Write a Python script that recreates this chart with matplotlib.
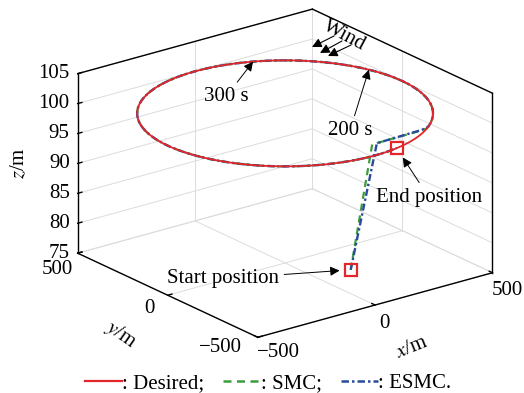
import numpy as np
import matplotlib
matplotlib.use("Agg")
import matplotlib.pyplot as plt
from matplotlib.lines import Line2D
from matplotlib.text import Annotation
from mpl_toolkits.mplot3d import proj3d

plt.rcParams["font.family"] = ["Liberation Serif", "DejaVu Serif"]
plt.rcParams["mathtext.fontset"] = "stix"
FS = 15

# ---------------- axis ranges and ticks ----------------
x_range = [-500, 500]
y_range = [-500, 500]
z_range = [75, 105]
x_ticks = [-500, 0, 500]
y_ticks = [-500, 0, 500]
z_ticks = [75, 80, 85, 90, 95, 100, 105]

# ---------------- desired circular path ----------------
circle_radius = 500.0
circle_altitude = 100.0

# ---------------- start / end positions ----------------
start_xyz = [-35.0, -410.0, 80.0]
end_angle_deg = -78.5

# ---------------- climb + transfer legs before joining the circle ----------------
smc_x = [-35, 55, 262]
smc_y = [-410, -412, -408]
smc_z = [80, 100, 100]
smc_join_deg = -54

esmc_x = [-35, 75, 272]
esmc_y = [-410, -412, -405]
esmc_z = [80, 100, 100]
esmc_join_deg = -52

# ---------------- time stamps along the circle ----------------
time_labels = ["200 s", "300 s"]
time_angles_deg = [18, 65]

RED = "#e3262b"
GREEN = "#3a9e3f"
BLUE = "#2b4a9b"
GRID = "#dcdcdc"

W_PX, H_PX = 524, 393


def circle_pts(a0_deg, a1_deg, n=600):
    a = np.radians(np.linspace(a0_deg, a1_deg, n))
    return (circle_radius * np.cos(a), circle_radius * np.sin(a),
            np.full_like(a, circle_altitude))


def tracked_path(xs, ys, zs, join_deg):
    cx, cy, cz = circle_pts(join_deg, end_angle_deg + 360)
    return (np.concatenate([xs, cx]), np.concatenate([ys, cy]),
            np.concatenate([zs, cz]))


class Annotation3D(Annotation):
    """Annotation whose anchor point lives in 3D data space."""

    def __init__(self, text, xyz, **kw):
        super().__init__(text, xy=(0, 0), **kw)
        self._xyz = xyz

    def draw(self, renderer):
        xs, ys, _ = proj3d.proj_transform(*self._xyz, self.axes.M)
        self.xy = (xs, ys)
        super().draw(renderer)


fig = plt.figure(figsize=(W_PX / 100, H_PX / 100), dpi=100)
ax = fig.add_axes([0, 0, 1, 1], projection="3d", proj_type="ortho")
ax.set_xlim(*x_range)
ax.set_ylim(*y_range)
ax.set_zlim(*z_range)
ax.set_box_aspect((1, 1, 0.65))
ax.view_init(elev=21, azim=-127.5)
ax.set_axis_off()
ax.computed_zorder = False

x0, x1 = x_range
y0, y1 = y_range
z0, z1 = z_range


def seg(p, q, **kw):
    ax.plot([p[0], q[0]], [p[1], q[1]], [p[2], q[2]], **kw)


# grid on the back walls and floor
gkw = dict(color=GRID, lw=0.7, zorder=1)
for xt in x_ticks:
    seg((xt, y1, z0), (xt, y1, z1), **gkw)
    seg((xt, y0, z0), (xt, y1, z0), **gkw)
for yt in y_ticks:
    seg((x1, yt, z0), (x1, yt, z1), **gkw)
    seg((x0, yt, z0), (x1, yt, z0), **gkw)
for zt in z_ticks:
    seg((x0, y1, zt), (x1, y1, zt), **gkw)
    seg((x1, y0, zt), (x1, y1, zt), **gkw)

# outer box edges
bkw = dict(color="black", lw=1.0, zorder=2)
seg((x0, y1, z0), (x0, y1, z1), **bkw)
seg((x1, y0, z0), (x1, y0, z1), **bkw)
seg((x0, y1, z1), (x1, y1, z1), **bkw)
seg((x1, y1, z1), (x1, y0, z1), **bkw)
seg((x0, y1, z0), (x0, y0, z0), **bkw)
seg((x0, y0, z0), (x1, y0, z0), **bkw)

# tick marks
tl = 18
for zt in z_ticks:
    seg((x0, y1, zt), (x0 + tl, y1, zt), **bkw)
for yt in y_ticks:
    seg((x0, yt, z0), (x0 + tl, yt, z0), **bkw)
for xt in x_ticks:
    seg((xt, y0, z0), (xt, y0 + tl, z0), **bkw)

# trajectories
sx, sy, sz = tracked_path(smc_x, smc_y, smc_z, smc_join_deg)
ex, ey, ez = tracked_path(esmc_x, esmc_y, esmc_z, esmc_join_deg)
dx, dy, dz = circle_pts(0, 360, 900)
ax.plot(sx, sy, sz, color=GREEN, lw=1.6, ls=(0, (3.2, 2.2)), zorder=3)
ax.plot(ex, ey, ez, color=BLUE, lw=1.7, ls=(0, (3.0, 1.2, 1.0, 1.2)), zorder=4)
ax.plot(dx, dy, dz, color=RED, lw=1.3, zorder=5)

end_xyz = [circle_radius * np.cos(np.radians(end_angle_deg)),
           circle_radius * np.sin(np.radians(end_angle_deg)), circle_altitude]
for p in (start_xyz, end_xyz):
    ax.plot([p[0]], [p[1]], [p[2]], marker="s", ms=8, mfc="none", mec=RED,
            mew=1.6, ls="none", zorder=6)


def note(text, xyz, off, arrow=False, **kw):
    props = dict(textcoords="offset pixels", xytext=off, ha="center",
                 va="center", fontsize=FS, annotation_clip=False, zorder=8)
    props.update(kw)
    if arrow:
        props["arrowprops"] = dict(arrowstyle="-|>", color="black", lw=0.7,
                                   mutation_scale=14, shrinkA=2,
                                   shrinkB=arrow if arrow is not True else 0)
    a = Annotation3D(text, xyz, **props)
    ax.add_artist(a)
    a.set_clip_on(False)
    if a.arrow_patch is not None:
        a.arrow_patch.set_clip_on(False)
    return a


# tick labels
for zt in z_ticks:
    note(f"{zt}", (x0, y1, zt), (-8, 0), ha="right")
y_off = {500: (-20, -16), 0: (-18, -13), -500: (-37, -10)}
for yt in y_ticks:
    note(f"{yt}".replace("-", "\u2212"), (x0, yt, z0), y_off[yt])
x_off = {-500: (21, -15), 0: (9, -18), 500: (15, -18)}
for xt in x_ticks:
    note(f"{xt}".replace("-", "\u2212"), (xt, y0, z0), x_off[xt])

# axis labels
note(r"$z$/m", (x0, y1, (z0 + z1) / 2), (-58, 0), rotation=90)
note(r"$y$/m", (x0, 0, z0), (-47, -39), rotation=-35)
note(r"$x$/m", (0, y0, z0), (37, -43), rotation=22)

# time stamps
t_off = {"200 s": (-19, -61), "300 s": (-27, -35)}
for lab, ang in zip(time_labels, time_angles_deg):
    a = np.radians(ang)
    note(lab, (circle_radius * np.cos(a), circle_radius * np.sin(a),
               circle_altitude), t_off[lab], arrow=True)

note("Start position", tuple(start_xyz), (-128, -9), arrow=8)
note("End position", tuple(end_xyz), (32, -49), arrow=8)

# wind indicator
fig.text(344 / W_PX, 1 - 36 / H_PX, "Wind", fontsize=FS, rotation=-28,
         ha="center", va="center")
for tip, tail in [((312, 47), (334, 36)), ((320, 53), (342, 41)),
                  ((328, 56), (351, 45))]:
    fig.add_artist(Annotation(
        "", xy=(tip[0], H_PX - tip[1]), xytext=(tail[0], H_PX - tail[1]),
        xycoords="figure pixels", textcoords="figure pixels",
        arrowprops=dict(arrowstyle="-|>", color="black", lw=0.8,
                        mutation_scale=14, shrinkA=0, shrinkB=0)))

# legend
handles = [Line2D([], [], color=RED, lw=1.6),
           Line2D([], [], color=GREEN, lw=1.8, ls=(0, (3.2, 2.2))),
           Line2D([], [], color=BLUE, lw=1.8, ls=(0, (3.0, 1.2, 1.0, 1.2)))]
fig.legend(handles, [": Desired;", ": SMC;", ": ESMC."], loc="center",
           bbox_to_anchor=(268 / W_PX, 10 / H_PX), ncol=3, frameon=False,
           fontsize=FS, handlelength=1.8, handletextpad=0.0,
           columnspacing=0.9, borderpad=0.0)

# fit the box into the frame: corners of the box -> their pixel spots
fig.canvas.draw()
corner_xyz = np.array([[x0, y1, z0], [x0, y0, z0], [x1, y0, z0],
                       [x1, y1, z1], [x0, y1, z1]], dtype=float)
corner_px = np.array([[77, 253], [260, 337], [492, 273], [312, 10], [77, 73]],
                     dtype=float)
corner_px[:, 1] = H_PX - corner_px[:, 1]
px_, py_, _ = proj3d.proj_transform(corner_xyz[:, 0], corner_xyz[:, 1],
                                    corner_xyz[:, 2], ax.M)
cur = ax.transData.transform(np.column_stack([px_, py_]))
A = np.zeros((2 * len(cur), 3))
b = np.zeros(2 * len(cur))
A[0::2, 0] = cur[:, 0]
A[0::2, 1] = 1
A[1::2, 0] = cur[:, 1]
A[1::2, 2] = 1
b[0::2] = corner_px[:, 0]
b[1::2] = corner_px[:, 1]
s, bx, by = np.linalg.lstsq(A, b, rcond=None)[0]
cx, cy = W_PX / 2, H_PX / 2
ncx, ncy = bx + s * cx, by + s * cy
nw, nh = s * W_PX, s * H_PX
ax.set_position([(ncx - nw / 2) / W_PX, (ncy - nh / 2) / H_PX,
                 nw / W_PX, nh / H_PX])

fig.savefig("out.png", dpi=100)
